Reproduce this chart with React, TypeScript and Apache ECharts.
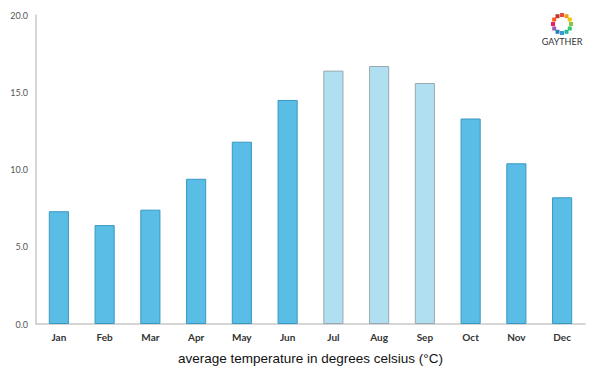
import React, { useEffect, useRef } from "react";
import * as echarts from "echarts";

const months = ["Jan", "Feb", "Mar", "Apr", "May", "Jun", "Jul", "Aug", "Sep", "Oct", "Nov", "Dec"];
const temps = [7.3, 6.4, 7.4, 9.4, 11.8, 14.5, 16.4, 16.7, 15.6, 13.3, 10.4, 8.2];
const summer = ["Jul", "Aug", "Sep"];
const logoColors = ["#e84c3d", "#f39c12", "#f1c40f", "#8bc34a", "#2ecc71", "#1abc9c", "#3498db", "#2980b9", "#9b59b6", "#e91e63", "#ff5722", "#c0392b"];

export default function App() {
  const ref = useRef<HTMLDivElement>(null);
  useEffect(() => {
    const chart = echarts.init(ref.current!, null, { renderer: "svg" });
    const cx = 562, cy = 24, r = 9;
    const dots = logoColors.map((c, i) => {
      const a = (i / logoColors.length) * Math.PI * 2 - Math.PI / 2;
      return {
        type: "rect",
        shape: { x: cx + r * Math.cos(a) - 2, y: cy + r * Math.sin(a) - 2, width: 4, height: 4 },
        style: { fill: c },
      };
    });
    chart.setOption({
      animation: false,
      grid: { left: 36, right: 15, top: 15, bottom: 51 },
      xAxis: {
        type: "category",
        data: months,
        axisLine: { lineStyle: { color: "#c8c8c8", width: 1.5 } },
        axisTick: { show: false },
        axisLabel: { color: "#333", fontSize: 10, fontWeight: "bold", fontFamily: "Lato", margin: 8 },
        name: "average temperature in degrees celsius (°C)",
        nameLocation: "middle",
        nameGap: 27,
        nameTextStyle: { color: "#111", fontSize: 13.5, fontFamily: "Liberation Sans" },
      },
      yAxis: {
        type: "value",
        min: 0,
        max: 20,
        interval: 5,
        axisLine: { show: true, lineStyle: { color: "#c8c8c8", width: 1.5 } },
        axisTick: { show: false },
        splitLine: { show: false },
        axisLabel: { color: "#555", fontSize: 9, fontFamily: "Lato", formatter: (v: number) => v.toFixed(1), margin: 8 },
      },
      series: [
        {
          type: "bar",
          barWidth: "44%",
          data: temps.map((v, i) => {
            const light = summer.includes(months[i]);
            return {
              value: v,
              itemStyle: light
                ? { color: "#b1dff2", borderColor: "#9aa8ae", borderWidth: 1 }
                : { color: "#59bde6", borderColor: "#3a98c0", borderWidth: 1 },
            };
          }),
        },
      ],
      graphic: [
        ...dots,
        {
          type: "text",
          style: { text: "GAYTHER", x: cx, y: 37, align: "center", fill: "#333", fontSize: 9, fontFamily: "Lato" },
        },
      ],
    });
    return () => chart.dispose();
  }, []);
  return <div ref={ref} style={{ position: "absolute", left: 0, top: 0, width: 600, height: 375, background: "#fff" }} />;
}
